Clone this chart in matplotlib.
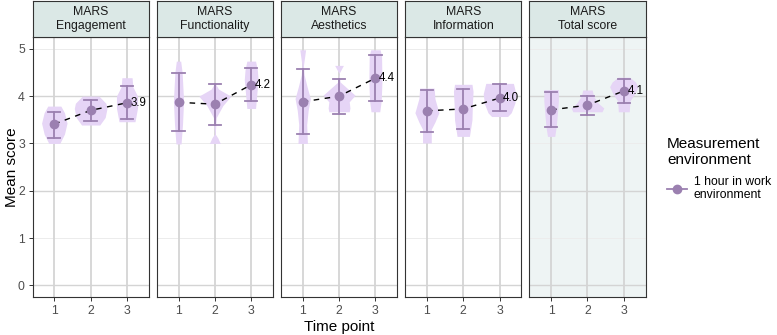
import matplotlib
matplotlib.use("Agg")
import matplotlib.pyplot as plt
from matplotlib.lines import Line2D

plt.rcParams['font.family'] = ['Liberation Sans', 'DejaVu Sans']

# ---------------- data ----------------
panels = ["MARS\nEngagement", "MARS\nFunctionality", "MARS\nAesthetics",
          "MARS\nInformation", "MARS\nTotal score"]
time_points = [1, 2, 3]

means = [
    [3.41, 3.70, 3.86],
    [3.87, 3.83, 4.24],
    [3.88, 4.00, 4.38],
    [3.69, 3.73, 3.96],
    [3.71, 3.81, 4.11],
]
err_low = [
    [3.11, 3.48, 3.51],
    [3.27, 3.39, 3.90],
    [3.20, 3.62, 3.90],
    [3.25, 3.30, 3.69],
    [3.34, 3.60, 3.86],
]
err_high = [
    [3.67, 3.92, 4.21],
    [4.48, 4.26, 4.59],
    [4.57, 4.36, 4.87],
    [4.14, 4.15, 4.25],
    [4.09, 4.01, 4.36],
]

# violin outlines: score levels and half widths (x units)
violin_levels = [
    [[3.79, 3.65, 3.43, 3.20, 3.00],
     [4.00, 3.85, 3.74, 3.55, 3.39],
     [4.39, 4.20, 4.00, 3.75, 3.46]],
    [[4.74, 4.50, 3.90, 3.40, 2.99],
     [4.27, 4.15, 4.00, 3.80, 3.55, 3.20, 3.12, 3.00],
     [4.74, 4.55, 4.35, 4.00, 3.74]],
    [[4.98, 4.65, 4.45, 4.20, 3.95, 3.70, 3.40, 3.00],
     [4.65, 4.48, 4.30, 4.02, 3.88, 3.75, 3.67],
     [4.98, 4.85, 4.30, 3.90, 3.67]],
    [[4.17, 3.95, 3.65, 3.45, 3.30, 3.01],
     [4.25, 4.10, 3.80, 3.50, 3.30, 3.15],
     [4.27, 4.05, 3.85, 3.65, 3.57]],
    [[4.14, 3.90, 3.60, 3.35, 3.15],
     [4.13, 4.00, 3.85, 3.75, 3.67],
     [4.40, 4.30, 4.20, 4.05, 3.90, 3.67]],
]
violin_halfwidths = [
    [[0.18, 0.28, 0.35, 0.28, 0.15],
     [0.23, 0.42, 0.45, 0.40, 0.25],
     [0.14, 0.16, 0.29, 0.29, 0.22]],
    [[0.06, 0.10, 0.14, 0.11, 0.07],
     [0.01, 0.10, 0.44, 0.22, 0.04, 0.01, 0.08, 0.15],
     [0.12, 0.17, 0.19, 0.15, 0.12]],
    [[0.08, 0.02, 0.04, 0.12, 0.21, 0.15, 0.11, 0.13],
     [0.12, 0.00, 0.03, 0.44, 0.28, 0.30, 0.28],
     [0.13, 0.17, 0.18, 0.16, 0.12]],
    [[0.20, 0.22, 0.33, 0.22, 0.12, 0.12],
     [0.24, 0.27, 0.25, 0.24, 0.20, 0.17],
     [0.38, 0.45, 0.42, 0.32, 0.22]],
    [[0.20, 0.20, 0.17, 0.14, 0.10],
     [0.13, 0.17, 0.30, 0.45, 0.40],
     [0.16, 0.32, 0.39, 0.30, 0.17, 0.15]],
]

y_ticks = [0, 1, 2, 3, 4, 5]
legend_label = "1 hour in work\nenvironment"
legend_title = "Measurement\nenvironment"

# ---------------- style ----------------
PURPLE = "#9b80b0"
VIOLIN = "#e6d5f6"
STRIP = "#dbe8e6"
HIGHLIGHT_BG = "#eef4f4"
BORDER = "#333333"

W, H = 777, 335
fig = plt.figure(figsize=(W / 100, H / 100), dpi=100)

left0 = 32.5
pitch = 124.2
pw = 116.3
ax_bottom = 297.3
ax_top = 37.0
strip_top = 1.0

for i, name in enumerate(panels):
    x0 = left0 + i * pitch
    ax = fig.add_axes([x0 / W, (H - ax_bottom) / H, pw / W, (ax_bottom - ax_top) / H])
    ax.set_xlim(0.4, 3.6)
    ax.set_ylim(-0.25, 5.25)
    ax.set_facecolor(HIGHLIGHT_BG if i == len(panels) - 1 else "white")

    # grid
    for yv in y_ticks:
        if yv % 2 == 0:
            ax.axhline(yv, color="#d4d4d4", lw=1.0, zorder=0.5)
        else:
            ax.axhline(yv, color="#ececec", lw=0.7, zorder=0.5)
    for xv in time_points:
        ax.axvline(xv, color="#d4d4d4", lw=1.3, zorder=0.5)

    # violins
    for j, t in enumerate(time_points):
        lv = violin_levels[i][j]
        hw = violin_halfwidths[i][j]
        ax.fill_betweenx(lv, [t - h for h in hw], [t + h for h in hw],
                         color=VIOLIN, lw=0, zorder=1)

    # dashed mean line
    ax.plot(time_points, means[i], color="black", lw=1.0, ls=(0, (4, 4)), zorder=2)

    # error bars + points
    for j, t in enumerate(time_points):
        ax.plot([t, t], [err_low[i][j], err_high[i][j]], color=PURPLE, lw=1.3, zorder=3)
        for yv in (err_low[i][j], err_high[i][j]):
            ax.plot([t - 0.17, t + 0.17], [yv, yv], color=PURPLE, lw=1.3, zorder=3)
    ax.plot(time_points, means[i], "o", color=PURPLE, ms=6, mec=PURPLE, zorder=4)

    # label last mean
    ax.text(time_points[-1] + 0.1, means[i][-1], f"{means[i][-1]:.1f}",
            ha="left", va="center", fontsize=8.3, color="black", zorder=5,
            clip_on=False)

    ax.set_xticks(time_points)
    ax.set_xticklabels([str(t) for t in time_points])
    ax.set_yticks(y_ticks)
    if i == 0:
        ax.set_yticklabels([str(v) for v in y_ticks])
    else:
        ax.tick_params(axis="y", left=False, labelleft=False)
    ax.tick_params(axis="both", length=3, width=0.7, color=BORDER,
                   labelsize=8.8, labelcolor="#4d4d4d", pad=2.5)
    for s in ax.spines.values():
        s.set_color(BORDER)
        s.set_linewidth(0.8)

    # strip
    sax = fig.add_axes([x0 / W, (H - ax_top) / H, pw / W, (ax_top - strip_top) / H])
    sax.set_xticks([])
    sax.set_yticks([])
    sax.set_facecolor(STRIP)
    for s in sax.spines.values():
        s.set_color(BORDER)
        s.set_linewidth(0.8)
    sax.text(0.5, 0.5, name, ha="center", va="center", fontsize=8.8,
             color="#1a1a1a", transform=sax.transAxes, linespacing=1.3)

# axis titles
fig.text((left0 + 4 * pitch + pw + left0) / 2 / W, 1 - 327 / H, "Time point",
         ha="center", va="center", fontsize=11, color="black")
fig.text(12 / W, 1 - (ax_top + ax_bottom) / 2 / H, "Mean score", rotation=90,
         ha="center", va="center", fontsize=11, color="black")

# legend
handle = Line2D([], [], color=PURPLE, marker="o", ms=6, lw=1.3)
leg = fig.legend([handle], [legend_label], title=legend_title,
                 loc="upper left", bbox_to_anchor=(667 / W, 1 - 137 / H),
                 frameon=False, fontsize=8.8, title_fontsize=11,
                 handlelength=1.6, handletextpad=0.6, borderpad=0,
                 borderaxespad=0, labelspacing=0.8)
leg._legend_box.align = "left"
for t in leg.get_texts():
    t.set_linespacing(1.1)
leg.get_title().set_linespacing(1.15)

fig.savefig("out.png", dpi=100)
